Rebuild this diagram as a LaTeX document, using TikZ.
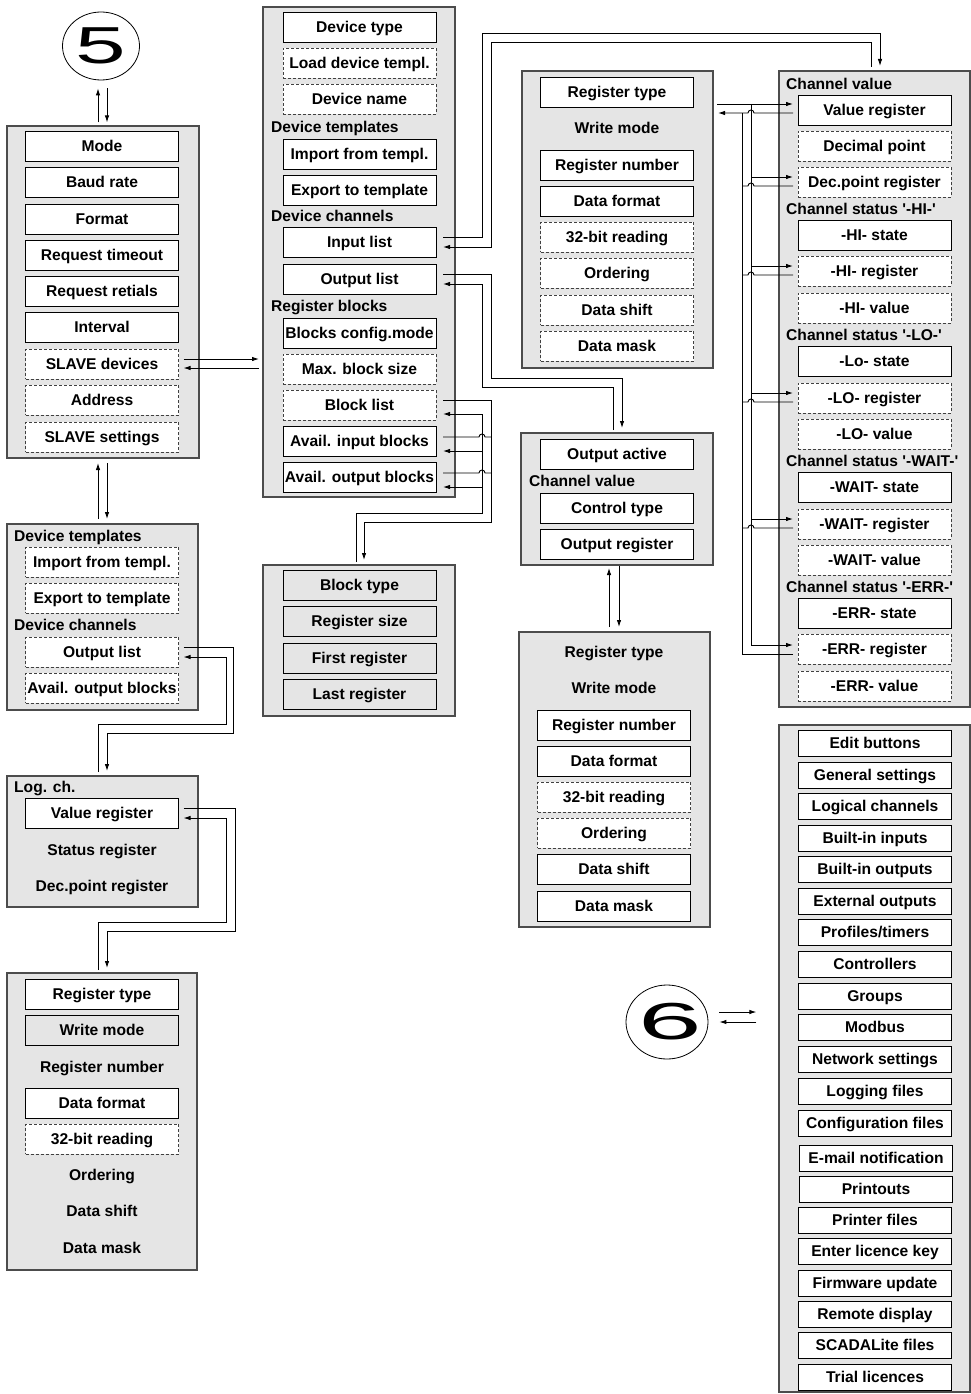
\documentclass[tikz,border=0pt]{standalone}
\usepackage{fontspec}
\usepackage{graphicx}
\newfontfamily\lf{Liberation Sans}
\usetikzlibrary{arrows.meta,shapes.geometric}
\begin{document}
\begin{tikzpicture}[x=1pt,y=-1pt,
  lab/.style={font=\lf\fontsize{15.6}{18}\selectfont\bfseries},
  panel/.style={draw=black!70,fill=black!10,line width=1.2pt,anchor=north west,inner sep=0pt,outer sep=0pt},
  box/.style={lab,draw=black,fill=white,line width=0.9pt,minimum width=153pt,minimum height=30pt,inner sep=0pt,outer sep=0pt,text height=11.2pt,text depth=0pt},
  dbox/.style={box,draw=black!75,dash pattern=on 3pt off 2pt},
  gbox/.style={box,fill=black!10},
  kbox/.style={box,minimum height=26pt},
  txt/.style={lab,inner sep=0pt,text height=11.2pt,text depth=0pt},
  hdr/.style={txt,anchor=west},
  con/.style={draw=black,line width=0.9pt},
  arr/.style={-{Latex[length=7pt,width=4.5pt]}},
  ring/.style={ellipse,draw=black,line width=0.8pt,fill=white,inner sep=0pt}
]
\useasboundingbox (0,0) rectangle (971,1394);

% ---------- panels ----------
\node[panel,minimum width=192pt,minimum height=332pt] (pA) at (7,126) {};
\node[panel,minimum width=192pt,minimum height=490pt] (pB) at (263,7) {};
\node[panel,minimum width=191pt,minimum height=186pt] (pC) at (7,524) {};
\node[panel,minimum width=191pt,minimum height=131pt] (pD) at (7,776) {};
\node[panel,minimum width=190pt,minimum height=297pt] (pE) at (7,973) {};
\node[panel,minimum width=191pt,minimum height=297pt] (pF) at (522,71) {};
\node[panel,minimum width=192pt,minimum height=151pt] (pG) at (263,565) {};
\node[panel,minimum width=191pt,minimum height=636pt] (pH) at (779,71) {};
\node[panel,minimum width=192pt,minimum height=132pt] (pI) at (521,433) {};
\node[panel,minimum width=191pt,minimum height=295pt] (pJ) at (519,632) {};
\node[panel,minimum width=191pt,minimum height=667pt] (pK) at (779,725) {};

% ---------- circles ----------
\node[ring,minimum width=77pt,minimum height=68pt] (c5) at (101,46) {};
\node[inner sep=0pt] (n5) at (c5.center) {\lf\fontsize{52}{52}\selectfont\scalebox{1.75}[1]{5}};
\node[ring,minimum width=82pt,minimum height=74pt] (c6) at (667,1022) {};
\node[inner sep=0pt] (n6) at ([xshift=3pt]c6.center) {\lf\fontsize{52}{52}\selectfont\scalebox{2.2}[1]{6}};

% ---------- panel A ----------
\node[box] (a1) at (102,146) {Mode};
\node[box] (a2) at (102,182) {Baud rate};
\node[box] (a3) at (102,219) {Format};
\node[box] (a4) at (102,255) {Request timeout};
\node[box] (a5) at (102,291) {Request retials};
\node[box] (a6) at (102,327) {Interval};
\node[dbox] (sd) at (102,364) {SLAVE devices};
\node[dbox] (a8) at (102,400) {Address};
\node[dbox] (a9) at (102,437) {SLAVE settings};

% ---------- panel B ----------
\node[box] (b1) at (359.5,27) {Device type};
\node[dbox] (b2) at (359.5,63) {Load device templ.};
\node[dbox] (b3) at (359.5,99) {Device name};
\node[hdr] (bh1) at (271,127) {Device templates};
\node[box] (b4) at (359.5,154) {Import from templ.};
\node[box] (b5) at (359.5,190) {Export to template};
\node[hdr] (bh2) at (271,216) {Device channels};
\node[box] (il) at (359.5,242) {Input list};
\node[box] (ol) at (359.5,279) {Output list};
\node[hdr] (bh3) at (271,306) {Register blocks};
\node[box] (b8) at (359.5,333) {Blocks config.mode};
\node[dbox] (b9) at (359.5,369) {Max. block size};
\node[dbox] (bl) at (359.5,405) {Block list};
\node[box] (ai) at (359.5,441) {Avail. input blocks};
\node[box] (ao) at (359.5,477) {Avail. output blocks};

% ---------- panel C ----------
\node[hdr] (ch1) at (14,536) {Device templates};
\node[dbox] (c1) at (102,562) {Import from templ.};
\node[dbox] (c2) at (102,598) {Export to template};
\node[hdr] (ch2) at (14,625) {Device channels};
\node[dbox] (col) at (102,652) {Output list};
\node[dbox] (c4) at (102,688) {Avail. output blocks};

% ---------- panel D ----------
\node[hdr] (dh) at (14,787) {Log. ch.};
\node[box] (dvr) at (102,813) {Value register};
\node[txt] (d2) at (102,850) {Status register};
\node[txt] (d3) at (102,886) {Dec.point register};

% ---------- panel E ----------
\node[box] (e1) at (102,994) {Register type};
\node[gbox] (e2) at (102,1030) {Write mode};
\node[txt] (e3) at (102,1067) {Register number};
\node[box] (e4) at (102,1103) {Data format};
\node[dbox] (e5) at (102,1139) {32-bit reading};
\node[txt] (e6) at (102,1175) {Ordering};
\node[txt] (e7) at (102,1211) {Data shift};
\node[txt] (e8) at (102,1248) {Data mask};

% ---------- panel F ----------
\node[box] (f1) at (617,92) {Register type};
\node[txt] (f2) at (617,128) {Write mode};
\node[box] (f3) at (617,165) {Register number};
\node[box] (f4) at (617,201) {Data format};
\node[dbox] (f5) at (617,237) {32-bit reading};
\node[dbox] (f6) at (617,273) {Ordering};
\node[dbox] (f7) at (617,310) {Data shift};
\node[dbox] (f8) at (617,346) {Data mask};

% ---------- panel G ----------
\node[gbox] (g1) at (359.5,585) {Block type};
\node[gbox] (g2) at (359.5,621) {Register size};
\node[gbox] (g3) at (359.5,658) {First register};
\node[gbox] (g4) at (359.5,694) {Last register};

% ---------- panel H ----------
\node[hdr] (hh1) at (786,84) {Channel value};
\node[box] (vr) at (874.5,110) {Value register};
\node[dbox] (h2) at (874.5,146) {Decimal point};
\node[dbox] (dpr) at (874.5,182) {Dec.point register};
\node[hdr] (hh2) at (786,209) {Channel status '-HI-'};
\node[box] (h4) at (874.5,235) {-HI- state};
\node[dbox] (hir) at (874.5,271) {-HI- register};
\node[dbox] (h6) at (874.5,308) {-HI- value};
\node[hdr] (hh3) at (786,335) {Channel status '-LO-'};
\node[box] (h7) at (874.5,361) {-Lo- state};
\node[dbox] (lor) at (874.5,398) {-LO- register};
\node[dbox] (h9) at (874.5,434) {-LO- value};
\node[hdr] (hh4) at (786,461) {Channel status '-WAIT-'};
\node[box] (h10) at (874.5,487) {-WAIT- state};
\node[dbox] (war) at (874.5,524) {-WAIT- register};
\node[dbox] (h12) at (874.5,560) {-WAIT- value};
\node[hdr] (hh5) at (786,587) {Channel status '-ERR-'};
\node[box] (h13) at (874.5,613) {-ERR- state};
\node[dbox] (err) at (874.5,649) {-ERR- register};
\node[dbox] (h15) at (874.5,686) {-ERR- value};

% ---------- panel I ----------
\node[box] (i1) at (617,454) {Output active};
\node[hdr] (ih) at (529,481) {Channel value};
\node[box] (i2) at (617,508) {Control type};
\node[box] (i3) at (617,544) {Output register};

% ---------- panel J ----------
\node[txt] (j1) at (614,652) {Register type};
\node[txt] (j2) at (614,688) {Write mode};
\node[box] (j3) at (614,725) {Register number};
\node[box] (j4) at (614,761) {Data format};
\node[dbox] (j5) at (614,797) {32-bit reading};
\node[dbox] (j6) at (614,833) {Ordering};
\node[box] (j7) at (614,869) {Data shift};
\node[box] (j8) at (614,906) {Data mask};

% ---------- panel K ----------
\node[kbox] (k1) at (875,743) {Edit buttons};
\node[kbox] (k2) at (875,775) {General settings};
\node[kbox] (k3) at (875,806) {Logical channels};
\node[kbox] (k4) at (875,838) {Built-in inputs};
\node[kbox] (k5) at (875,869) {Built-in outputs};
\node[kbox] (k6) at (875,901) {External outputs};
\node[kbox] (k7) at (875,932) {Profiles/timers};
\node[kbox] (k8) at (875,964) {Controllers};
\node[kbox] (k9) at (875,996) {Groups};
\node[kbox] (k10) at (875,1027) {Modbus};
\node[kbox] (k11) at (875,1059) {Network settings};
\node[kbox] (k12) at (875,1091) {Logging files};
\node[kbox] (k13) at (875,1123) {Configuration files};
\node[kbox] (k14) at (876,1158) {E-mail notification};
\node[kbox] (k15) at (876,1189) {Printouts};
\node[kbox] (k16) at (875,1220) {Printer files};
\node[kbox] (k17) at (875,1251) {Enter licence key};
\node[kbox] (k18) at (875,1283) {Firmware update};
\node[kbox] (k19) at (875,1314) {Remote display};
\node[kbox] (k20) at (875,1345) {SCADALite files};
\node[kbox] (k21) at (875,1377) {Trial licences};

% ---------- connectors ----------
% 5 <-> A
\draw[con,arr] ([shift={(-3pt,-42pt)}]c5.south) -- ++(0,-34);
\draw[con,arr] ([shift={(6pt,-8pt)}]c5.south) -- ++(0,34);
% A <-> C
\draw[con,arr] ([shift={(-4.5pt,5pt)}]pC.north) -- ([shift={(-5pt,-5pt)}]pA.south);
\draw[con,arr] ([shift={(4pt,-5pt)}]pA.south) -- ([shift={(4.5pt,5pt)}]pC.north);
% SLAVE devices <-> B
\draw[con,arr] ([shift={(5pt,5pt)}]sd.east) -- (259,359);
\draw[con,arr] (259,368) -- ([shift={(5pt,-4pt)}]sd.east);
% Input list <-> H
\draw[con,arr] ([shift={(7pt,5pt)}]il.east) -- (482,237) -- (482,33) -- (880,33) -- ([xshift=101pt,yshift=5pt]pH.north west);
\draw[con,arr] ([xshift=92pt,yshift=4pt]pH.north west) -- (871,42) -- (491,42) -- (491,247) -- ([shift={(7pt,-5pt)}]il.east);
% Output list <-> I
\draw[con,arr] ([shift={(7pt,5pt)}]ol.east) -- (491,274) -- (491,378) -- (622,378) -- ([xshift=101pt,yshift=5pt]pI.north west);
\draw[con,arr] ([xshift=92pt,yshift=3pt]pI.north west) -- (613,387) -- (482,387) -- (482,284) -- ([shift={(7pt,-5pt)}]ol.east);
% Block lists <-> G
\draw[con,arr] ([shift={(7pt,5pt)}]bl.east) -- (491,400) -- (491,522) -- (364,522) -- ([xshift=101pt,yshift=5pt]pG.north west);
\draw[con] ([shift={(7pt,4pt)}]ai.east) -- (479,437) arc[start angle=180,end angle=0,radius=3pt] -- (491,437);
\draw[con] ([shift={(7pt,4pt)}]ao.east) -- (479,473) arc[start angle=180,end angle=0,radius=3pt] -- (491,473);
\draw[con,arr] ([xshift=93pt,yshift=3pt]pG.north west) -- (356,513) -- (482,513) -- (482,414) -- ([shift={(7pt,-9pt)}]bl.east);
\draw[con,arr] (482,451) -- ([shift={(7pt,-10pt)}]ai.east);
\draw[con,arr] (482,487) -- ([shift={(7pt,-10pt)}]ao.east);
% C output list <-> D
\draw[con,arr] ([shift={(5pt,5pt)}]col.east) -- (233,647) -- (233,733) -- (107,733) -- ([xshift=100pt,yshift=5pt]pD.north west);
\draw[con,arr] ([xshift=91pt,yshift=4pt]pD.north west) -- (98,724) -- (226,724) -- (226,657) -- ([shift={(5pt,-5pt)}]col.east);
% D value register <-> E
\draw[con,arr] ([shift={(5pt,5pt)}]dvr.east) -- (235,808) -- (235,931) -- (107,931) -- ([xshift=100pt,yshift=5pt]pE.north west);
\draw[con,arr] ([xshift=91pt,yshift=3pt]pE.north west) -- (98,922) -- (226,922) -- (226,818) -- ([shift={(5pt,-5pt)}]dvr.east);
% I <-> J
\draw[con,arr] ([xshift=90pt,yshift=5pt]pJ.north west) -- ([xshift=88pt,yshift=-3pt]pI.south west);
\draw[con,arr] ([xshift=98pt,yshift=-1pt]pI.south west) -- ([xshift=100pt,yshift=5pt]pJ.north west);
% F <-> H register bus
\draw[con,arr] ([shift={(4pt,-33pt)}]pF.north east) -- ([shift={(-5pt,6pt)}]vr.west);
\draw[con,arr] ([shift={(-5pt,-3pt)}]vr.west) -- (754,113) arc[start angle=0,end angle=180,radius=3pt] -- ([shift={(5pt,-42pt)}]pF.north east);
\draw[con,arr] (751,104) -- (751,645) -- ([shift={(-5pt,4pt)}]err.west);
\draw[con] ([shift={(-5pt,-5pt)}]err.west) -- (742,654) -- (742,113);
\draw[con,arr] (751,177) -- ([shift={(-5pt,5pt)}]dpr.west);
\draw[con] ([shift={(-5pt,-4pt)}]dpr.west) -- (754,186) arc[start angle=0,end angle=180,radius=3pt] -- (742,186);
\draw[con,arr] (751,266) -- ([shift={(-5pt,5pt)}]hir.west);
\draw[con] ([shift={(-5pt,-4pt)}]hir.west) -- (754,275) arc[start angle=0,end angle=180,radius=3pt] -- (742,275);
\draw[con,arr] (751,393) -- ([shift={(-5pt,5pt)}]lor.west);
\draw[con] ([shift={(-5pt,-4pt)}]lor.west) -- (754,402) arc[start angle=0,end angle=180,radius=3pt] -- (742,402);
\draw[con,arr] (751,519) -- ([shift={(-5pt,5pt)}]war.west);
\draw[con] ([shift={(-5pt,-4pt)}]war.west) -- (754,528) arc[start angle=0,end angle=180,radius=3pt] -- (742,528);
% 6 <-> K
\draw[con,arr] ([shift={(11pt,10pt)}]c6.east) -- ++(37,0);
\draw[con,arr] ([shift={(48pt,0pt)}]c6.east) -- ++(-37,0);
\end{tikzpicture}
\end{document}
